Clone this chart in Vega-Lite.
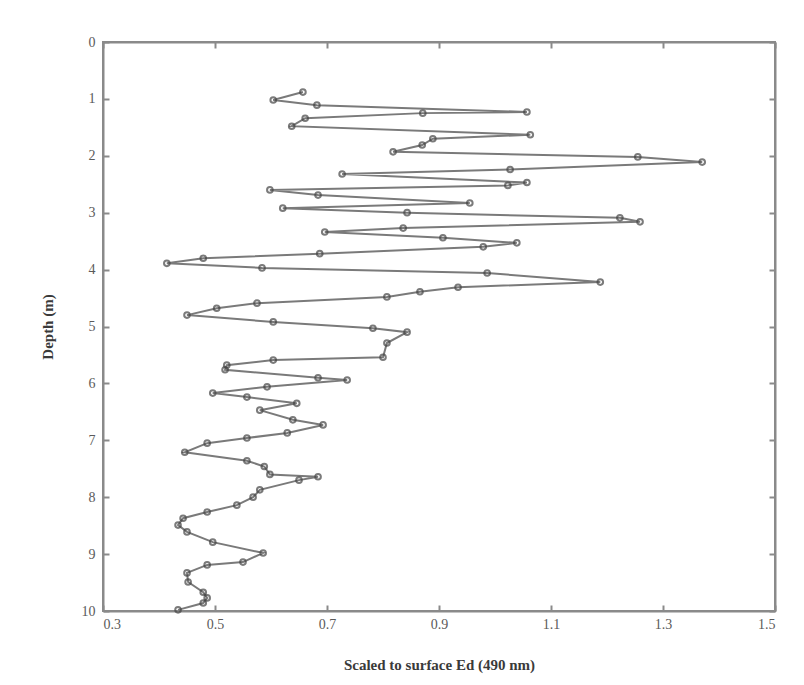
{
  "$schema": "https://vega.github.io/schema/vega-lite/v6.json",
  "width": 672,
  "height": 569,
  "autosize": {"type": "none"},
  "padding": {"left": 103, "top": 42, "right": 29, "bottom": 74},
  "background": "white",
  "config": {
    "view": {"stroke": "#8a8a8a", "strokeWidth": 2},
    "axis": {
      "labelFont": "Liberation Serif",
      "titleFont": "Liberation Serif",
      "labelColor": "#5a5a5a",
      "titleColor": "#3a3a3a",
      "labelFontSize": 14,
      "titleFontSize": 15,
      "domainColor": "#8a8a8a",
      "domainWidth": 2,
      "tickColor": "#8a8a8a",
      "tickWidth": 2,
      "tickSize": -6,
      "grid": false
    }
  },
  "data": {
    "values": [
      {"e": 0.657, "depth": 0.88},
      {"e": 0.604, "depth": 1.02},
      {"e": 0.682, "depth": 1.11},
      {"e": 1.057, "depth": 1.23},
      {"e": 0.871, "depth": 1.25},
      {"e": 0.661, "depth": 1.34},
      {"e": 0.637, "depth": 1.48},
      {"e": 1.063, "depth": 1.63},
      {"e": 0.889, "depth": 1.70},
      {"e": 0.870, "depth": 1.81},
      {"e": 0.818, "depth": 1.93},
      {"e": 1.255, "depth": 2.02},
      {"e": 1.370, "depth": 2.11},
      {"e": 1.027, "depth": 2.24},
      {"e": 0.727, "depth": 2.32},
      {"e": 1.057, "depth": 2.47},
      {"e": 1.023, "depth": 2.52},
      {"e": 0.598, "depth": 2.60},
      {"e": 0.684, "depth": 2.69},
      {"e": 0.955, "depth": 2.83},
      {"e": 0.621, "depth": 2.92},
      {"e": 0.843, "depth": 3.00},
      {"e": 1.223, "depth": 3.09},
      {"e": 1.259, "depth": 3.16},
      {"e": 0.836, "depth": 3.27},
      {"e": 0.696, "depth": 3.34},
      {"e": 0.907, "depth": 3.44},
      {"e": 1.039, "depth": 3.53},
      {"e": 0.979, "depth": 3.60},
      {"e": 0.687, "depth": 3.72},
      {"e": 0.479, "depth": 3.80},
      {"e": 0.414, "depth": 3.89},
      {"e": 0.584, "depth": 3.97},
      {"e": 0.986, "depth": 4.06},
      {"e": 1.188, "depth": 4.22},
      {"e": 0.934, "depth": 4.31},
      {"e": 0.866, "depth": 4.39},
      {"e": 0.807, "depth": 4.48},
      {"e": 0.575, "depth": 4.59},
      {"e": 0.503, "depth": 4.68},
      {"e": 0.450, "depth": 4.80},
      {"e": 0.604, "depth": 4.92},
      {"e": 0.782, "depth": 5.03},
      {"e": 0.843, "depth": 5.10},
      {"e": 0.807, "depth": 5.29},
      {"e": 0.800, "depth": 5.54},
      {"e": 0.604, "depth": 5.59},
      {"e": 0.521, "depth": 5.68},
      {"e": 0.518, "depth": 5.76},
      {"e": 0.684, "depth": 5.90},
      {"e": 0.736, "depth": 5.94},
      {"e": 0.593, "depth": 6.06},
      {"e": 0.496, "depth": 6.17},
      {"e": 0.557, "depth": 6.24},
      {"e": 0.646, "depth": 6.35},
      {"e": 0.580, "depth": 6.47},
      {"e": 0.639, "depth": 6.64},
      {"e": 0.693, "depth": 6.73},
      {"e": 0.629, "depth": 6.87},
      {"e": 0.557, "depth": 6.96},
      {"e": 0.486, "depth": 7.05},
      {"e": 0.446, "depth": 7.21},
      {"e": 0.557, "depth": 7.36},
      {"e": 0.588, "depth": 7.46},
      {"e": 0.598, "depth": 7.60},
      {"e": 0.684, "depth": 7.64},
      {"e": 0.650, "depth": 7.70},
      {"e": 0.580, "depth": 7.87},
      {"e": 0.568, "depth": 8.00},
      {"e": 0.539, "depth": 8.14},
      {"e": 0.486, "depth": 8.26},
      {"e": 0.443, "depth": 8.37},
      {"e": 0.434, "depth": 8.49},
      {"e": 0.450, "depth": 8.61},
      {"e": 0.496, "depth": 8.79},
      {"e": 0.586, "depth": 8.98},
      {"e": 0.550, "depth": 9.14},
      {"e": 0.486, "depth": 9.19},
      {"e": 0.450, "depth": 9.33},
      {"e": 0.452, "depth": 9.49},
      {"e": 0.479, "depth": 9.67},
      {"e": 0.486, "depth": 9.77},
      {"e": 0.479, "depth": 9.86},
      {"e": 0.434, "depth": 9.98}
    ]
  },
  "layer": [
    {
      "encoding": {
        "x": {
          "field": "e", "type": "quantitative",
          "scale": {"domain": [0.3, 1.5], "nice": false, "zero": false},
          "axis": {"orient": "bottom", "values": [0.3, 0.5, 0.7, 0.9, 1.1, 1.3, 1.5], "format": ".1f", "title": "Scaled to surface Ed (490 nm)", "labelPadding": 12, "titlePadding": 26}
        },
        "y": {
          "field": "depth", "type": "quantitative",
          "scale": {"domain": [0, 10], "reverse": true, "nice": false, "zero": false},
          "axis": {"orient": "left", "values": [0, 1, 2, 3, 4, 5, 6, 7, 8, 9, 10], "title": "Depth (m)", "labelPadding": 14, "titlePadding": 26}
        },
        "order": {"field": "depth", "type": "quantitative"}
      },
      "layer": [
        {"mark": {"type": "line", "color": "#7a7a7a", "strokeWidth": 2}},
        {"mark": {"type": "point", "shape": "circle", "filled": false, "size": 32, "color": "#444444", "strokeWidth": 2}}
      ]
    },
    {
      "mark": {"type": "point", "opacity": 0},
      "encoding": {
        "x": {"field": "e", "type": "quantitative", "scale": {"domain": [0.3, 1.5], "nice": false, "zero": false}, "axis": {"orient": "top", "values": [0.3, 0.5, 0.7, 0.9, 1.1, 1.3, 1.5], "labels": false, "title": null}},
        "y": {"field": "depth", "type": "quantitative", "scale": {"domain": [0, 10], "reverse": true, "nice": false, "zero": false}, "axis": {"orient": "right", "values": [0, 1, 2, 3, 4, 5, 6, 7, 8, 9, 10], "labels": false, "title": null}}
      }
    }
  ],
  "resolve": {"axis": {"x": "independent", "y": "independent"}}
}
